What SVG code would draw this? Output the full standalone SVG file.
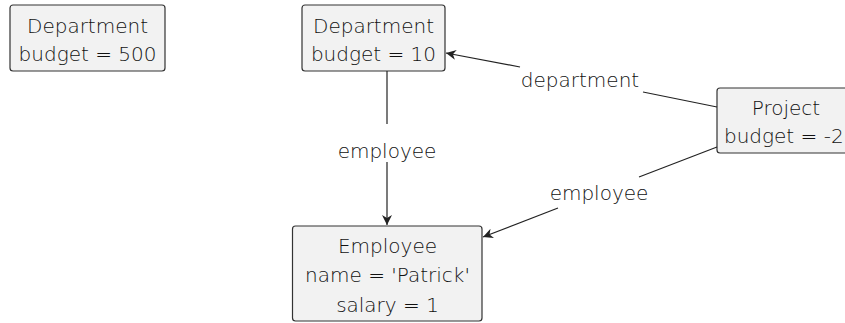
<svg xmlns="http://www.w3.org/2000/svg" width="845" height="323" viewBox="0 0 845 323">
<style>
.box{fill:#f2f2f2;stroke:#333;stroke-width:1.2}
text{font-family:"DejaVu Sans",sans-serif;font-size:20px;font-weight:200;fill:#111}
.c{text-anchor:middle}
.edge{fill:none;stroke:#222;stroke-width:1.2}
</style>
<defs>
<marker id="arr" viewBox="0 0 10 10" refX="10" refY="5" markerWidth="10" markerHeight="10" markerUnits="userSpaceOnUse" orient="auto">
<path d="M0,0 L10,5 L0,10 L3,5 Z" fill="#222"/>
</marker>
</defs>
<rect width="845" height="323" fill="#fff"/>
<g id="dept500">
<rect class="box" x="10" y="5" width="155" height="66" rx="3"/>
<text class="c" x="87.5" y="33">Department</text>
<text class="c" x="87.5" y="61">budget = 500</text>
</g>
<g id="dept10">
<rect class="box" x="302" y="5" width="143" height="66" rx="3"/>
<text class="c" x="373.5" y="33">Department</text>
<text class="c" x="373.5" y="61">budget = 10</text>
</g>
<g id="employee">
<rect class="box" x="292.5" y="226" width="189.5" height="95" rx="3"/>
<text class="c" x="387.5" y="253">Employee</text>
<text class="c" x="387.5" y="282">name = 'Patrick'</text>
<text class="c" x="387.5" y="312">salary = 1</text>
</g>
<g id="project">
<rect class="box" x="717" y="88" width="150" height="65" rx="3"/>
<text class="c" x="786" y="115">Project</text>
<text x="724" y="143">budget = -2</text>
</g>
<g id="connectors">
<line class="edge" x1="387" y1="71" x2="387" y2="124"/>
<line class="edge" x1="387" y1="162" x2="387" y2="225" marker-end="url(#arr)"/>
<text class="c" x="387" y="158">employee</text>
<line class="edge" x1="520" y1="67" x2="446" y2="53" marker-end="url(#arr)"/>
<line class="edge" x1="643" y1="92" x2="717" y2="107"/>
<text class="c" x="580" y="87">department</text>
<line class="edge" x1="717" y1="147" x2="639" y2="177"/>
<line class="edge" x1="558" y1="208" x2="483" y2="237" marker-end="url(#arr)"/>
<text class="c" x="599" y="200">employee</text>
</g>
</svg>
